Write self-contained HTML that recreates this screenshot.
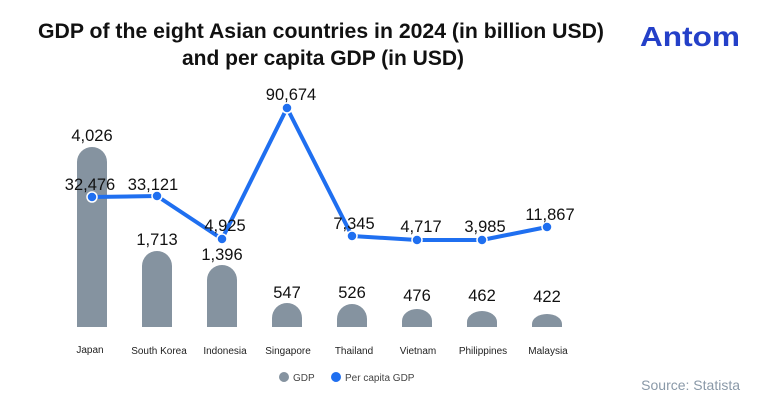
<!DOCTYPE html><html><head><style>
body{margin:0;width:762px;height:407px;background:#fff;overflow:hidden;font-family:"Liberation Sans",sans-serif}
</style></head><body>
<svg width="762" height="407" xmlns="http://www.w3.org/2000/svg" font-family="Liberation Sans, sans-serif">
<text x="321" y="38" text-anchor="middle" font-size="21" font-weight="bold" fill="#111" textLength="566" lengthAdjust="spacingAndGlyphs">GDP of the eight Asian countries in 2024 (in billion USD)</text>
<text x="323" y="65" text-anchor="middle" font-size="21" font-weight="bold" fill="#111">and per capita GDP (in USD)</text>
<text x="690" y="46" text-anchor="middle" font-size="28" font-weight="bold" fill="#2440c8" textLength="100" lengthAdjust="spacingAndGlyphs">Antom</text>
<g fill="#8593a0">
<path d="M77,327V162a15,15 0 0 1 30,0V327Z"/>
<path d="M142,327V266a15,15 0 0 1 30,0V327Z"/>
<path d="M207,327V280a15,15 0 0 1 30,0V327Z"/>
<path d="M272,327V318a15,15 0 0 1 30,0V327Z"/>
<path d="M337,327V319a15,15 0 0 1 30,0V327Z"/>
<path d="M402,327V321a15,12 0 0 1 30,0V327Z"/>
<path d="M467,327V322a15,11 0 0 1 30,0V327Z"/>
<path d="M532,327V324a15,10 0 0 1 30,0V327Z"/>
</g>
<g font-size="16.5" fill="#111" text-anchor="middle">
<text x="92" y="141">4,026</text><text x="157" y="245">1,713</text><text x="222" y="260">1,396</text>
<text x="287" y="298">547</text><text x="352" y="298">526</text><text x="417" y="301">476</text>
<text x="482" y="301">462</text><text x="547" y="302">422</text>
</g>
<polyline points="92,197 157,196 222,239 287,108 352,236 417,240 482,240 547,227" fill="none" stroke="#1f6ff0" stroke-width="4" stroke-linejoin="round"/>
<g fill="#1f6ff0" stroke="#fff" stroke-width="1.5">
<circle cx="92" cy="197" r="5"/><circle cx="157" cy="196" r="5"/><circle cx="222" cy="239" r="5"/><circle cx="287" cy="108" r="5"/>
<circle cx="352" cy="236" r="5"/><circle cx="417" cy="240" r="5"/><circle cx="482" cy="240" r="5"/><circle cx="547" cy="227" r="5"/>
</g>
<g font-size="16.5" fill="#111" text-anchor="middle">
<text x="90" y="190">32,476</text><text x="153" y="190">33,121</text><text x="225" y="231">4,925</text>
<text x="291" y="100">90,674</text><text x="354" y="229">7,345</text><text x="421" y="232">4,717</text>
<text x="485" y="232">3,985</text><text x="550" y="220">11,867</text>
</g>
<g font-size="10" fill="#222" text-anchor="middle">
<text x="90" y="353">Japan</text><text x="159" y="354">South Korea</text><text x="225" y="354">Indonesia</text>
<text x="288" y="354">Singapore</text><text x="354" y="354">Thailand</text><text x="418" y="354">Vietnam</text>
<text x="483" y="354">Philippines</text><text x="548" y="354">Malaysia</text>
</g>
<circle cx="284" cy="377" r="5" fill="#8593a0"/><text x="293" y="381" font-size="10" fill="#444">GDP</text>
<circle cx="336" cy="377" r="5" fill="#1f6ff0"/><text x="345" y="381" font-size="10" fill="#444">Per capita GDP</text>
<text x="740" y="390" text-anchor="end" font-size="14" fill="#8a99a8">Source: Statista</text>
</svg>
</body></html>
